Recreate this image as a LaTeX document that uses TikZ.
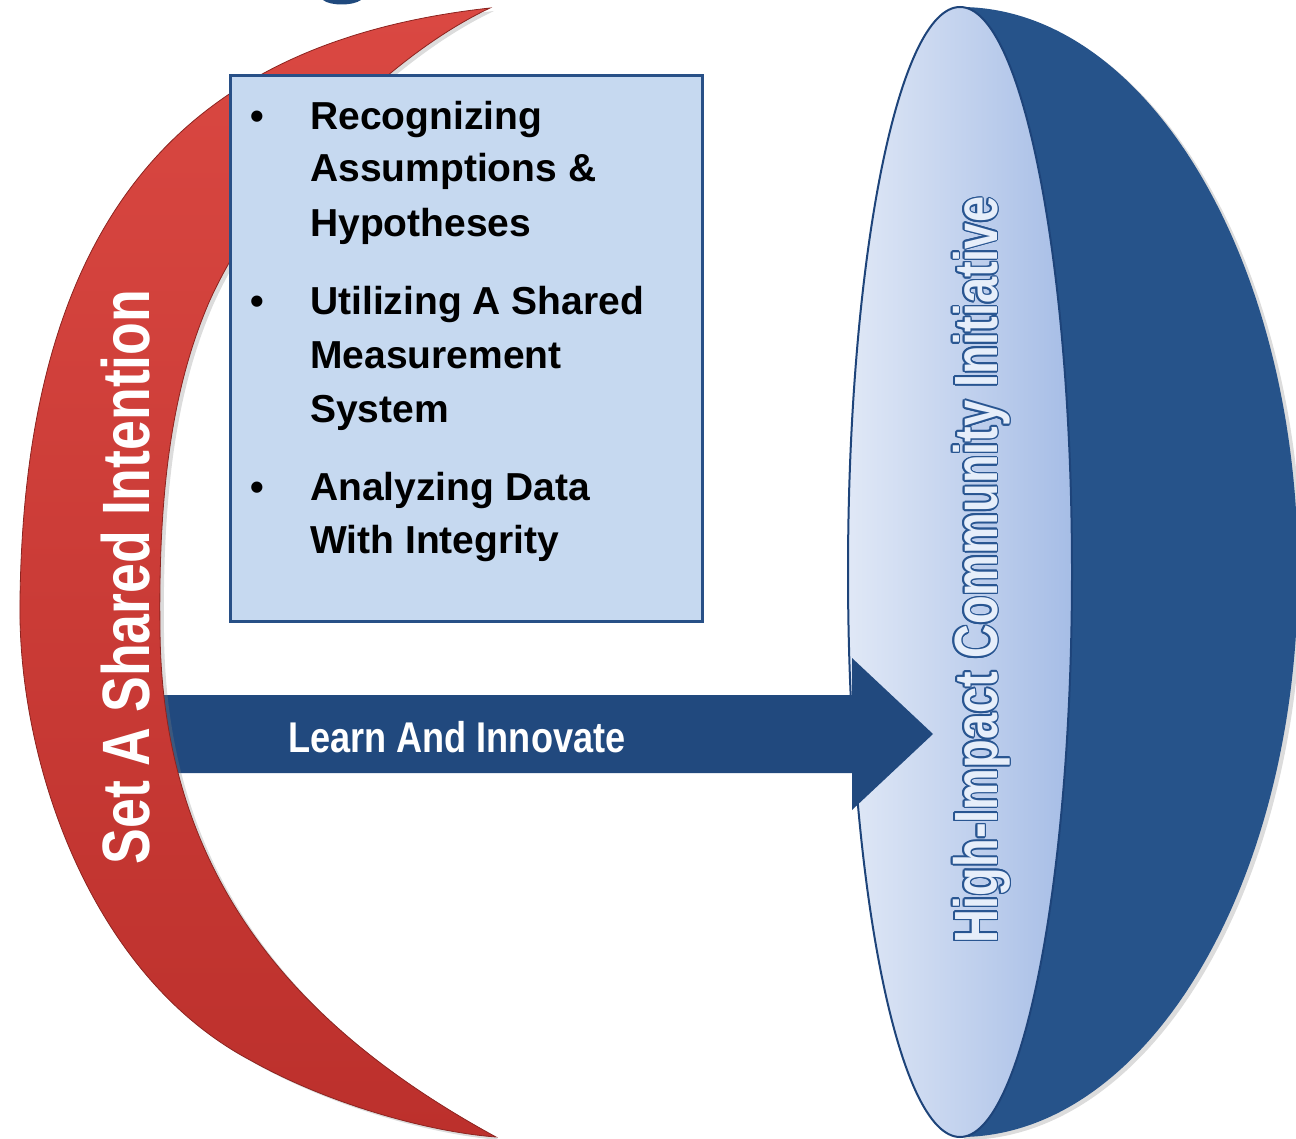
\documentclass[tikz,border=0pt]{standalone}
\usepackage{fontspec}
\setmainfont{Liberation Sans}
\newfontfamily\narrowA[FakeStretch=0.80]{Liberation Sans}
\newfontfamily\narrowB[FakeStretch=0.84]{Liberation Sans}
\newfontfamily\narrowC[FakeStretch=0.77]{Liberation Sans}
\usetikzlibrary{shadows}
\definecolor{redtop}{RGB}{218,72,66}
\definecolor{redbot}{RGB}{188,48,44}
\definecolor{redline}{RGB}{140,36,32}
\definecolor{domeblue}{RGB}{38,83,138}
\definecolor{faceleft}{RGB}{224,232,246}
\definecolor{faceright}{RGB}{166,189,230}
\definecolor{faceline}{RGB}{30,68,122}
\definecolor{arrowblue}{RGB}{33,73,126}
\definecolor{boxfill}{RGB}{198,217,240}
\definecolor{boxline}{RGB}{40,80,135}
\definecolor{hiline}{RGB}{40,85,145}
\definecolor{hifill}{RGB}{230,238,250}
\definecolor{titleblue}{RGB}{31,73,125}
\tikzset{
  boxtext/.style={anchor=base west, inner sep=0pt, text=black, font=\fontsize{39}{53}\selectfont\bfseries},
  bulletmark/.style={anchor=base west, inner sep=0pt, text=black, font=\fontsize{39}{53}\selectfont\bfseries},
  soft/.style={drop shadow={opacity=0.28, shadow xshift=4pt, shadow yshift=-3pt}},
  hitext/.style={rotate=90, anchor=base, inner sep=0pt, font=\fontsize{61}{70}\narrowC\bfseries}
}
\begin{document}
\begin{tikzpicture}[x=1pt,y=-1pt]
\useasboundingbox (0,0) rectangle (1296,1139);

% cut-off title fragment
\fill[titleblue] (323,0) .. controls (330,6) and (353,6) .. (361,0) -- cycle;

% dark dome (right half of a wide ellipse)
\fill[domeblue, soft] (960,7) arc[start angle=-90, end angle=90, x radius=338, y radius=565] -- cycle;
% light face
\shade[left color=faceleft, right color=faceright] (960,572) ellipse[x radius=112, y radius=565];
\draw[faceline, line width=2pt] (960,572) ellipse[x radius=112, y radius=565];

% outlined vertical text on the face
\foreach \a in {0,30,...,330}
  \node[hitext, text=hiline, name=hio\a] at ([shift={(\a:1.7pt)}]997,570) {High-Impact Community Initiative};
\node[hitext, text=hifill] (hitxt) at (997,570) {High-Impact Community Initiative};

% arrow
\fill[arrowblue] (140,695) -- (852,695) -- (852,658) -- (933,734) -- (852,810) -- (852,773) -- (140,773) -- cycle;
\node[anchor=base west, inner sep=0pt, text=white, font=\fontsize{43}{50}\narrowB\bfseries] (learn) at (288,752) {Learn And Innovate};

% red crescent
\shade[top color=redtop, bottom color=redbot, soft, draw=redline, line width=0.8pt]
  (490,8) .. controls (200,40) and (25,200) .. (20,600)
  .. controls (17,760) and (90,975) .. (250,1060)
  .. controls (330,1105) and (430,1132) .. (496,1137)
  .. controls (300,1030) and (162,880) .. (160,630)
  .. controls (158,480) and (175,380) .. (210,300)
  .. controls (260,190) and (380,60) .. (490,8)
  -- cycle;
\node[rotate=90, anchor=base, inner sep=0pt, text=white, font=\fontsize{67}{80}\narrowA\bfseries] (setint) at (149,577) {Set A Shared Intention};

% bullet box
\draw[boxline, fill=boxfill, line width=3pt] (230,76) rectangle (702,621);
\node[bulletmark] (b1) at (250,130) {•};
\node[bulletmark] (b2) at (250,315) {•};
\node[bulletmark] (b3) at (250,500) {•};
\node[boxtext] (l1) at (310,130) {Recognizing};
\node[boxtext] (l2) at (310,182) {Assumptions \&};
\node[boxtext] (l3) at (310,236.5) {Hypotheses};
\node[boxtext] (l4) at (310,315) {Utilizing A Shared};
\node[boxtext] (l5) at (310,369) {Measurement};
\node[boxtext] (l6) at (310,423) {System};
\node[boxtext] (l7) at (310,500) {Analyzing Data};
\node[boxtext] (l8) at (310,553) {With Integrity};
\end{tikzpicture}
\end{document}
